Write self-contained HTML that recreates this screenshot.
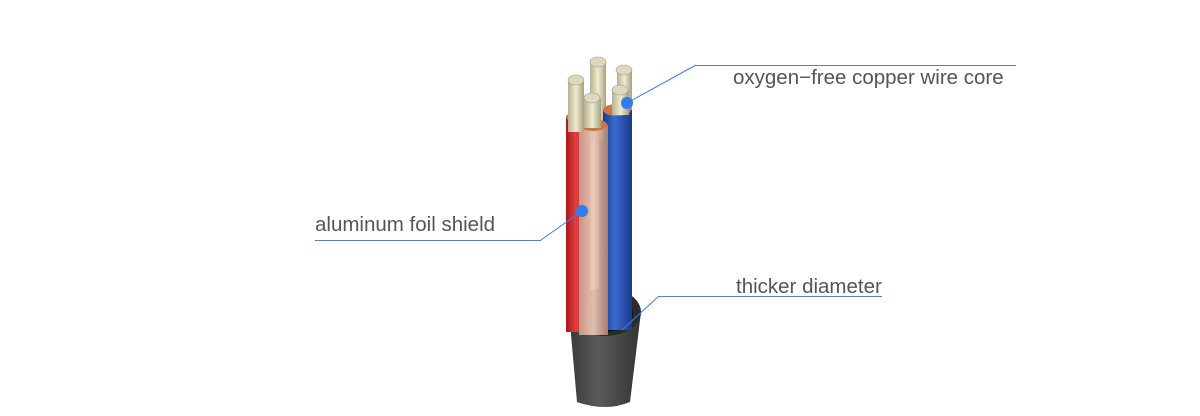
<!DOCTYPE html>
<html><head><meta charset="utf-8"><style>
html,body{margin:0;padding:0;background:#fff;}
svg{display:block}
text{font-family:"Liberation Sans",sans-serif;font-size:20.5px;fill:#555;}
</style></head><body>
<svg width="1200" height="416" viewBox="0 0 1200 416" xmlns="http://www.w3.org/2000/svg">
<defs>
<linearGradient id="jk" x1="0" x2="1"><stop offset="0" stop-color="#3a3a3a"/><stop offset=".4" stop-color="#5a5a5a"/><stop offset="1" stop-color="#333"/></linearGradient>
<linearGradient id="red" x1="0" x2="1"><stop offset="0" stop-color="#a81818"/><stop offset=".4" stop-color="#e04040"/><stop offset="1" stop-color="#b02020"/></linearGradient>
<linearGradient id="pink" x1="0" x2="1"><stop offset="0" stop-color="#c89a88"/><stop offset=".5" stop-color="#eac8b8"/><stop offset="1" stop-color="#b08070"/></linearGradient>
<linearGradient id="blue" x1="0" x2="1"><stop offset="0" stop-color="#1a3a8a"/><stop offset=".4" stop-color="#3a6ad0"/><stop offset="1" stop-color="#1a3a8a"/></linearGradient>
<linearGradient id="cu" x1="0" x2="1"><stop offset="0" stop-color="#b8b090"/><stop offset=".5" stop-color="#f0ecd0"/><stop offset="1" stop-color="#a8a080"/></linearGradient>
</defs>
<!-- jacket -->
<path d="M569 312 L577 402 Q606 412 630 402 L641 312 Z" fill="url(#jk)"/>
<ellipse cx="605" cy="312" rx="36" ry="24" fill="#2a2a2a"/>
<ellipse cx="605" cy="314" rx="28" ry="18" fill="#111"/>
<!-- back cores -->
<rect x="590" y="62" width="16" height="80" fill="url(#cu)"/>
<ellipse cx="598" cy="62" rx="8" ry="5" fill="#ddd8c0" stroke="#999" stroke-width=".6"/>
<rect x="617" y="70" width="15" height="60" fill="url(#cu)"/>
<ellipse cx="624" cy="70" rx="8" ry="5" fill="#ddd8c0" stroke="#999" stroke-width=".6"/>
<!-- wires -->
<rect x="566" y="117" width="24" height="215" fill="url(#red)"/>
<ellipse cx="578" cy="117" rx="12" ry="5" fill="#c87848"/>
<rect x="603" y="110" width="29" height="220" fill="url(#blue)"/>
<ellipse cx="617" cy="110" rx="14" ry="6" fill="#c87848"/>
<rect x="599" y="140" width="6" height="190" fill="#222"/>
<rect x="579" y="125" width="29" height="210" fill="url(#pink)" opacity=".95"/>
<ellipse cx="593" cy="125" rx="14" ry="6" fill="#c87848"/>
<!-- front cores -->
<rect x="568" y="80" width="16" height="52" fill="url(#cu)"/>
<ellipse cx="576" cy="80" rx="8" ry="5" fill="#ddd8c0" stroke="#999" stroke-width=".6"/>
<rect x="584" y="98" width="17" height="30" fill="url(#cu)"/>
<ellipse cx="592" cy="98" rx="8" ry="5" fill="#ddd8c0" stroke="#999" stroke-width=".6"/>
<rect x="612" y="90" width="17" height="25" fill="url(#cu)"/>
<ellipse cx="620" cy="90" rx="8" ry="5" fill="#ddd8c0" stroke="#999" stroke-width=".6"/>
<!-- callouts -->
<line x1="627" y1="103" x2="696" y2="65" stroke="#3a7de0" stroke-width="1"/>
<line x1="696" y1="65.5" x2="1016" y2="65.5" stroke="#5a7fc0" stroke-width="1"/>
<circle cx="627" cy="103" r="6" fill="#2f7bef"/>
<text x="733" y="84">oxygen−free copper wire core</text>
<line x1="582" y1="211" x2="541" y2="240" stroke="#3a7de0" stroke-width="1"/>
<line x1="315" y1="240.5" x2="541" y2="240.5" stroke="#5a7fc0" stroke-width="1"/>
<circle cx="582" cy="211" r="6" fill="#2f7bef"/>
<text x="315" y="231">aluminum foil shield</text>
<line x1="622" y1="330" x2="659" y2="296" stroke="#3a7de0" stroke-width="1"/>
<line x1="659" y1="296.5" x2="882" y2="296.5" stroke="#5a7fc0" stroke-width="1"/>
<text x="736" y="293">thicker diameter</text>
</svg>
</body></html>
